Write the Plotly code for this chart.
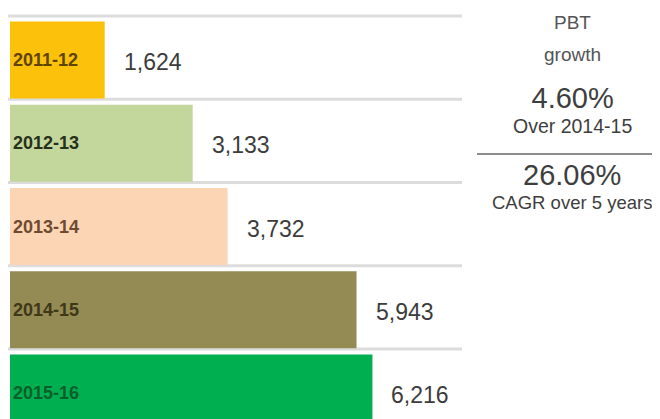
import plotly.graph_objects as go

# PBT by year
years = ['2011-12', '2012-13', '2013-14', '2014-15', '2015-16']
pbt = [1624, 3133, 3732, 5943, 6216]
bar_colors = ['#FBC10B', '#C3D69B', '#FCD5B5', '#948A54', '#00B050']
label_colors = ['#5E4400', '#26301A', '#6E4A30', '#3E3818', '#0A5F2A']

growth_yoy = '4.60%'
growth_yoy_note = 'Over 2014-15'
growth_cagr = '26.06%'
growth_cagr_note = 'CAGR over 5 years'

W, H = 660, 419
OFF = 8  # page body margin
units_per_px = 17.15
row_px = 83.25
FONT = 'Liberation Sans, Arial'


def px(p):
    return (p - OFF) / W


def py(p):
    return 1 - (p - OFF) / H


fig = go.Figure()

fig.add_trace(go.Bar(
    x=pbt, y=years, orientation='h',
    marker=dict(color=bar_colors, line=dict(width=0)),
    width=0.925,
    text=[f'<b>{y}</b>' for y in years],
    textposition='inside',
    insidetextanchor='start',
    textangle=0,
    insidetextfont=dict(family=FONT, size=18, color=label_colors),
    hoverinfo='skip',
))

# row separators
for i in range(len(years)):
    fig.add_shape(type='line', xref='paper', yref='y',
                  x0=px(5), x1=px(462), y0=i - 0.53, y1=i - 0.53,
                  line=dict(color='#DCDCDC', width=3), layer='below')

# value labels to the right of the bars
for yr, v in zip(years, pbt):
    fig.add_annotation(x=v, y=yr, text=f'{v:,}', showarrow=False,
                       xanchor='left', xshift=17, yshift=-2,
                       font=dict(family=FONT, size=23, color='#3C3C3C'))

# growth panel
cx = px(572)
fig.add_annotation(x=cx, y=py(22), xref='paper', yref='paper', text='PBT',
                   showarrow=False, xanchor='center', yanchor='middle',
                   font=dict(family=FONT, size=19, color='#555555'))
fig.add_annotation(x=cx, y=py(54), xref='paper', yref='paper', text='growth',
                   showarrow=False, xanchor='center', yanchor='middle',
                   font=dict(family=FONT, size=19, color='#555555'))
fig.add_annotation(x=cx, y=py(110), xref='paper', yref='paper',
                   text=f"<span style='font-size:29px'>{growth_yoy}</span><br>{growth_yoy_note}",
                   showarrow=False, xanchor='center', yanchor='middle',
                   font=dict(family=FONT, size=19.5, color='#3E3E3E'))
fig.add_annotation(x=cx, y=py(186), xref='paper', yref='paper',
                   text=f"<span style='font-size:29px'>{growth_cagr}</span><br>{growth_cagr_note}",
                   showarrow=False, xanchor='center', yanchor='middle',
                   font=dict(family=FONT, size=18.5, color='#3E3E3E'))

fig.add_shape(type='line', xref='paper', yref='paper',
              x0=px(477), x1=px(653), y0=py(154), y1=py(154),
              line=dict(color='#8C8C8C', width=2))

c0 = 60 - OFF  # pixel centre of first bar inside the figure
fig.update_layout(
    width=W, height=H,
    margin=dict(l=0, r=0, t=0, b=0),
    paper_bgcolor='white', plot_bgcolor='white',
    showlegend=False,
    xaxis=dict(range=[-(10 - OFF) * units_per_px, (W - 10 + OFF) * units_per_px],
               visible=False, fixedrange=True),
    yaxis=dict(type='category', categoryorder='array', categoryarray=years,
               range=[(H - c0) / row_px, -c0 / row_px],
               visible=False, fixedrange=True),
)

fig.write_html('out.html')
